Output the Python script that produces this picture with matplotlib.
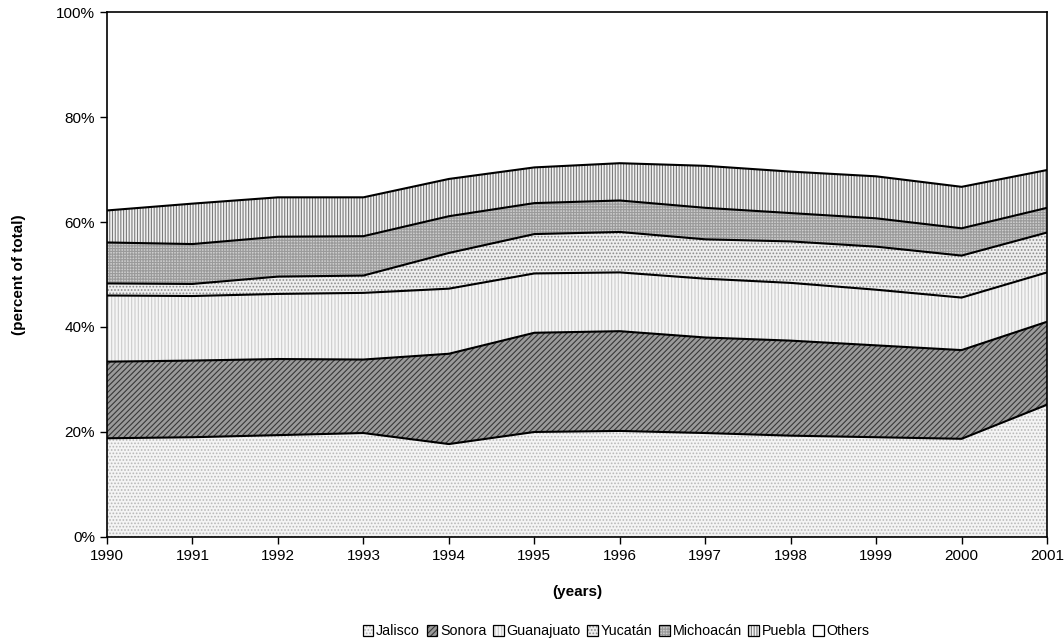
import matplotlib
matplotlib.use("Agg")
import matplotlib.pyplot as plt
import matplotlib.patches as mpatches
from matplotlib.legend_handler import HandlerTuple
import numpy as np

plt.rcParams['font.family'] = ['Liberation Sans', 'DejaVu Sans']
plt.rcParams['hatch.linewidth'] = 0.8

years = [1990, 1991, 1992, 1993, 1994, 1995, 1996, 1997, 1998, 1999, 2000, 2001]
# cumulative tops (percent of total)
jalisco_top = [18.8, 19.0, 19.4, 19.8, 17.7, 20.0, 20.2, 19.8, 19.3, 19.0, 18.7, 25.2]
sonora_top = [33.4, 33.6, 33.9, 33.8, 34.9, 38.9, 39.2, 38.0, 37.4, 36.5, 35.6, 41.0]
guanajuato_top = [46.0, 45.9, 46.3, 46.5, 47.3, 50.2, 50.4, 49.2, 48.4, 47.1, 45.6, 50.4]
yucatan_top = [48.3, 48.2, 49.6, 49.8, 54.1, 57.7, 58.1, 56.7, 56.3, 55.3, 53.6, 58.0]
michoacan_top = [56.1, 55.8, 57.2, 57.3, 61.1, 63.6, 64.1, 62.7, 61.7, 60.7, 58.8, 62.7]
puebla_top = [62.2, 63.5, 64.7, 64.7, 68.2, 70.4, 71.2, 70.7, 69.6, 68.7, 66.7, 69.9]
others_top = [100.0] * 12

series = ['Jalisco', 'Sonora', 'Guanajuato', 'Yucatán', 'Michoacán', 'Puebla', 'Others']
tops = [jalisco_top, sonora_top, guanajuato_top, yucatan_top, michoacan_top, puebla_top, others_top]

styles = [
    dict(facecolor='#f4f4f4', edgecolor='#b8b8b8', hatch='.....'),   # Jalisco
    dict(facecolor='#9a9a9a', edgecolor='#383838', hatch='//////'),  # Sonora
    dict(facecolor='#f6f6f6', edgecolor='#cccccc', hatch='|||||'),   # Guanajuato
    dict(facecolor='#eeeeee', edgecolor='#8c8c8c', hatch='.....'),   # Yucatán
    dict(facecolor='#cdcdcd', edgecolor='#9a9a9a', hatch='++++++'),  # Michoacán
    dict(facecolor='#f2f2f2', edgecolor='#7a7a7a', hatch='||||||'),  # Puebla
    dict(facecolor='#ffffff', edgecolor='#ffffff', hatch=None),      # Others
]

fig = plt.figure(figsize=(10.64, 6.43), dpi=100)
ax = fig.add_axes([0.1006, 0.1649, 0.8835, 0.8164])

x = np.array(years)
bottom = np.zeros(len(years))
for name, top, st in zip(series, tops, styles):
    top = np.array(top)
    ax.fill_between(x, bottom, top, facecolor=st['facecolor'], edgecolor=st['edgecolor'],
                    hatch=st['hatch'], linewidth=0, label=name)
    bottom = top

for top in tops[:-1]:
    ax.plot(x, top, color='black', lw=1.5, solid_joinstyle='miter')

ax.set_xlim(1990, 2001)
ax.set_ylim(0, 100)
ax.set_xticks(years)
ax.set_xticklabels([str(y) for y in years], fontsize=11)
ax.set_yticks([0, 20, 40, 60, 80, 100])
ax.set_yticklabels(['0%', '20%', '40%', '60%', '80%', '100%'], fontsize=11)
ax.tick_params(direction='out', length=5, width=1, color='black')
for s in ax.spines.values():
    s.set_linewidth(1.2)
    s.set_color('black')

ax.set_xlabel('(years)', fontsize=11, fontweight='bold', labelpad=16)
ax.set_ylabel('(percent of total)', fontsize=11, fontweight='bold', labelpad=22)

leg_handles = []
for name, st in zip(series, styles):
    p_fill = mpatches.Patch(facecolor=st['facecolor'], edgecolor=st['edgecolor'],
                            hatch=st['hatch'], linewidth=0)
    p_border = mpatches.Patch(facecolor='none', edgecolor='black', linewidth=0.9)
    leg_handles.append((p_fill, p_border))
fig.legend(handles=leg_handles, labels=series, loc='center', bbox_to_anchor=(0.579, 0.018),
           ncol=7, frameon=False, fontsize=10.3, handlelength=0.75, handleheight=0.75,
           handletextpad=0.2, columnspacing=0.45,
           handler_map={tuple: HandlerTuple(ndivide=1)})

fig.savefig('out.png', dpi=100)
